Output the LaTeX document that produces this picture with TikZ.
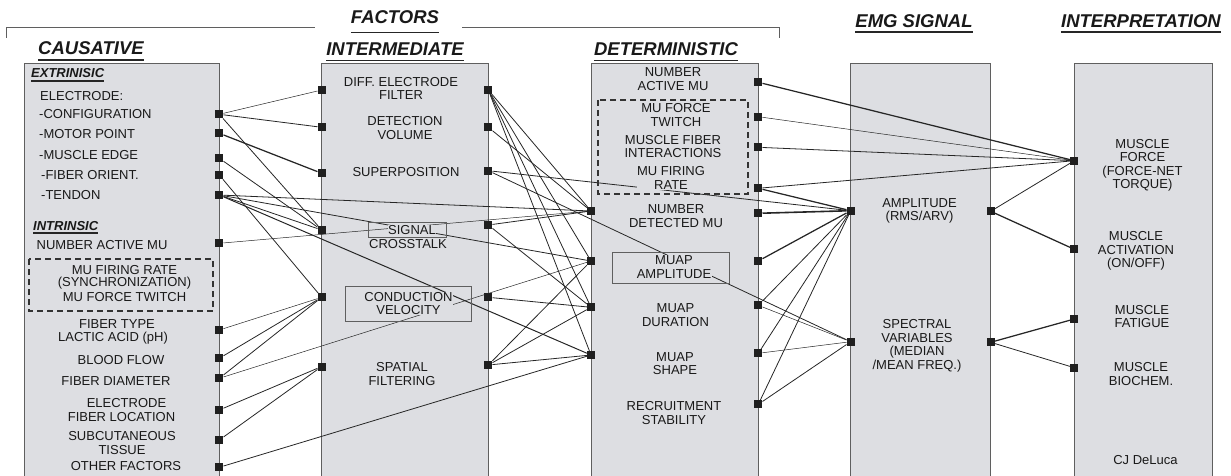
\documentclass[tikz,border=0pt]{standalone}
\usepackage{fontspec}
\setmainfont{Liberation Sans}
\definecolor{colbg}{RGB}{221,222,226}
\definecolor{edgec}{RGB}{95,95,95}
\definecolor{lnc}{RGB}{38,38,38}
\begin{document}
\begin{tikzpicture}[x=1pt,y=-1pt,
  colbox/.style={fill=colbg,draw=edgec,line width=1pt},
  port/.style={rectangle,fill=black!88,inner sep=0pt,minimum size=8pt},
  lbl/.style={fill=colbg,inner sep=0.5pt,align=center,text=black!90,font=\fontsize{13}{13.5}\selectfont},
  lblw/.style={lbl,anchor=west},
  hdr/.style={inner sep=0pt,anchor=base,text=black!90,font=\fontsize{18.5}{20}\selectfont\bfseries\itshape},
  subhdr/.style={inner sep=0pt,anchor=base west,text=black!90,font=\fontsize{13}{15}\selectfont\bfseries\itshape},
  uline/.style={draw=black!85,line width=1.4pt},
  cn/.style={draw=lnc,line width=0.8pt},
  cnthin/.style={draw=lnc,line width=0.5pt},
  cnthick/.style={draw=lnc,line width=1.25pt},
  frame/.style={draw=edgec,line width=1pt,inner sep=0pt},
  dbox/.style={draw=black!80,line width=2.2pt,dash pattern=on 6pt off 4pt},
]
\useasboundingbox (0,0) rectangle (1231,476);
\clip (0,0) rectangle (1231,476);

% ---------- headers ----------
\node[hdr] (fac) at (395,24) {FACTORS};
\draw[uline] ([yshift=-8.5pt]fac.base west) -- ([yshift=-8.5pt]fac.base east);
\draw[draw=edgec,line width=1pt] (6,38) -- (6,28) -- (315,28);
\draw[draw=edgec,line width=1pt] (462,28) -- (779,28) -- (779,38);
\node[hdr] (cau) at (91,55) {CAUSATIVE};
\draw[uline] ([yshift=-5pt]cau.base west) -- ([yshift=-5pt]cau.base east);
\node[hdr] (inter) at (395,56) {INTERMEDIATE};
\draw[uline] ([yshift=-4.5pt]inter.base west) -- ([yshift=-4.5pt]inter.base east);
\node[hdr] (det) at (666,56) {DETERMINISTIC};
\draw[uline] ([yshift=-4.5pt]det.base west) -- ([yshift=-4.5pt]det.base east);
\node[hdr] (emg) at (914,28) {EMG SIGNAL};
\draw[uline] ([yshift=-4pt]emg.base west) -- ([yshift=-4pt]emg.base east);
\node[hdr] (interp) at (1141,28) {INTERPRETATION};
\draw[uline] ([yshift=-4pt]interp.base west) -- ([yshift=-4pt]interp.base east);

% ---------- column boxes ----------
\path[colbox] (24.3,63.3) rectangle (219.3,490);
\path[colbox] (321.7,63.3) rectangle (488.3,490);
\path[colbox] (591,63.3) rectangle (758.3,490);
\path[colbox] (850.7,63.3) rectangle (990.7,490);
\path[colbox] (1074.3,63.3) rectangle (1212.7,490);

% ---------- ports ----------
\node[port] (aCfg) at (219.3,114.3) {};
\node[port] (aMot) at (219.3,133.3) {};
\node[port] (aEdge) at (219.3,158.3) {};
\node[port] (aFib) at (219.3,175) {};
\node[port] (aTen) at (219.3,195) {};
\node[port] (aNam) at (219.3,243.3) {};
\node[port] (aFtype) at (219.3,330) {};
\node[port] (aBlood) at (219.3,358.3) {};
\node[port] (aDiam) at (219.3,378.3) {};
\node[port] (aEloc) at (219.3,410) {};
\node[port] (aSub) at (219.3,440) {};
\node[port] (aOth) at (219.3,467.3) {};

\node[port] (bDiffL) at (321.7,90) {};
\node[port] (bDetL) at (321.7,127.3) {};
\node[port] (bSupL) at (321.7,173.3) {};
\node[port] (bXtL) at (321.7,230) {};
\node[port] (bCvL) at (321.7,297.3) {};
\node[port] (bSpL) at (321.7,366.5) {};
\node[port] (bDiffR) at (488.3,90) {};
\node[port] (bDetR) at (488.3,127.3) {};
\node[port] (bSupR) at (488.3,170.7) {};
\node[port] (bXtR) at (488.3,225) {};
\node[port] (bCvR) at (488.3,297.3) {};
\node[port] (bSpR) at (488.3,365) {};

\node[port] (cNdL) at (591,211) {};
\node[port] (cAmpL) at (591,261) {};
\node[port] (cDurL) at (591,307.3) {};
\node[port] (cShpL) at (591,355) {};
\node[port] (cNamR) at (758.3,82.3) {};
\node[port] (cTwR) at (758.3,116.7) {};
\node[port] (cFiR) at (758.3,147.3) {};
\node[port] (cFrR) at (758.3,188.3) {};
\node[port] (cNdR) at (758.3,213.3) {};
\node[port] (cAmpR) at (758.3,261) {};
\node[port] (cDurR) at (758.3,305.3) {};
\node[port] (cShpR) at (758.3,353.3) {};
\node[port] (cRecR) at (758.3,404.3) {};

\node[port] (dAmpL) at (850.7,210.7) {};
\node[port] (dSpecL) at (850.7,341.7) {};
\node[port] (dAmpR) at (990.7,211.3) {};
\node[port] (dSpecR) at (990.7,342.3) {};

\node[port] (eForce) at (1074.3,160.7) {};
\node[port] (eAct) at (1074.3,249.3) {};
\node[port] (eFat) at (1074.3,319) {};
\node[port] (eBio) at (1074.3,367.7) {};

% ---------- connectors: causative -> ----------
\draw[cnthin] (aCfg) -- (bDiffL);
\draw[cn] (aCfg) -- (bDetL);
\draw[cn] (aCfg) -- (bXtL);
\draw[cnthick] (aMot) -- (bSupL);
\draw[cn] (aEdge) -- (bXtL);
\draw[cn] (aFib) -- (bCvL);
\draw[cn] (aTen) -- (bXtL);
\draw[cn] (aTen) -- (cNdL);
\draw[cn] (aTen) -- (cAmpL);
\draw[line width=1pt,draw=lnc] (aTen) -- (cShpL);
\draw[cnthin] (aNam) -- (cNdL);
\draw[cnthin] (aFtype) -- (bCvL);
\draw[cn] (aBlood) -- (bCvL);
\draw[cn] (aDiam) -- (bCvL);
\draw[cnthin] (aDiam) -- (cAmpL);
\draw[cn] (aEloc) -- (bSpL);
\draw[cn] (aSub) -- (bSpL);
\draw[cn] (aOth) -- (cShpL);

% ---------- intermediate -> ----------
\draw[cn] (bDiffR) -- (cNdL);
\draw[cn] (bDiffR) -- (cAmpL);
\draw[cn] (bDiffR) -- (cDurL);
\draw[cn] (bDiffR) -- (cShpL);
\draw[cn] (bDetR) -- (cNdL);
\draw[cn] (bSupR) -- (dAmpL);
\draw[cn] (bSupR) -- (dSpecL);
\draw[cn] (bXtR) -- (cNdL);
\draw[cn] (bXtR) -- (cDurL);
\draw[cn] (bCvR) -- (cDurL);
\draw[cn] (bSpR) -- (cAmpL);
\draw[cn] (bSpR) -- (cDurL);
\draw[cn] (bSpR) -- (cShpL);

% ---------- deterministic -> ----------
\draw[cnthick] (cNamR) -- (eForce);
\draw[cnthin] (cTwR) -- (eForce);
\draw[cn] (cFiR) -- (eForce);
\draw[cn] (cFrR) -- (eForce);
\draw[cnthick] (cFrR) -- (dAmpL);
\draw[line width=1.6pt,draw=lnc] (cNdR) -- (dAmpL);
\draw[cnthick] (cAmpR) -- (dAmpL);
\draw[cn] (cDurR) -- (dAmpL);
\draw[cnthin] (cDurR) -- (dSpecL);
\draw[cn] (cShpR) -- (dAmpL);
\draw[cnthin] (cShpR) -- (dSpecL);
\draw[cn] (cRecR) -- (dAmpL);
\draw[cn] (cRecR) -- (dSpecL);

% ---------- EMG -> interpretation ----------
\draw[cn] (dAmpR) -- (eForce);
\draw[cnthick] (dAmpR) -- (eAct);
\draw[cnthick] (dSpecR) -- (eFat);
\draw[cn] (dSpecR) -- (eBio);

% ---------- labels: causative ----------
\node[subhdr] (extr) at (31,78) {EXTRINISIC};
\draw[draw=black!85,line width=1.2pt] ([yshift=-3pt]extr.base west) -- ([yshift=-3pt]extr.base east);
\node[lblw] (tElec) at (39.5,96) {ELECTRODE:};
\node[lblw] (tCfg) at (38.5,114.5) {-CONFIGURATION};
\node[lblw] (tMot) at (38.5,134) {-MOTOR POINT};
\node[lblw] (tEdge) at (38.5,155) {-MUSCLE EDGE};
\node[lblw] (tFib) at (40.5,175.5) {-FIBER ORIENT.};
\node[lblw] (tTen) at (40.5,195.5) {-TENDON};
\node[subhdr] (intr) at (33,230) {INTRINSIC};
\draw[draw=black!85,line width=1.2pt] ([yshift=-3pt]intr.base west) -- ([yshift=-3pt]intr.base east);
\node[lblw] (tNam) at (36,245) {NUMBER ACTIVE MU};
\node[lbl] (tFr) at (124.5,283.5) {MU FIRING RATE\\[-1.5pt](SYNCHRONIZATION)\\[1pt]MU FORCE TWITCH};
\node[lbl] (tFt) at (113,332) {\hspace*{8pt}FIBER TYPE\\LACTIC ACID (pH)};
\node[lbl] (tBlood) at (121,360.5) {BLOOD FLOW};
\node[lbl] (tDiam) at (116,381.5) {FIBER DIAMETER};
\node[lbl] (tEloc) at (121.5,410) {\hspace*{10pt}ELECTRODE\\FIBER LOCATION};
\node[lbl] (tSub) at (122,443) {SUBCUTANEOUS\\[1pt]TISSUE};
\node[lbl] (tOth) at (126,466.5) {OTHER FACTORS};

% ---------- labels: intermediate ----------
\node[lbl] (tDiff) at (401,88.5) {DIFF. ELECTRODE\\FILTER};
\node[lbl] (tDet) at (405,128) {DETECTION\\VOLUME};
\node[lbl] (tSup) at (406,172.5) {SUPERPOSITION};
\node[frame,minimum width=78pt,minimum height=15pt] (sigbox) at (407,229.5) {};
\node[lbl] (tSig) at (412,230.5) {SIGNAL};
\node[lbl] (tXt) at (408,244) {CROSSTALK};
\node[frame,minimum width=126pt,minimum height=35pt] (cvbox) at (408,303.5) {};
\node[lbl] (tCv) at (408.5,303.5) {CONDUCTION\\VELOCITY};
\node[lbl] (tSp) at (402,374) {SPATIAL\\FILTERING};

% ---------- labels: deterministic ----------
\node[lbl] (tNam3) at (673,79) {NUMBER\\ACTIVE MU};
\node[lbl] (tTw) at (676,115) {MU FORCE\\TWITCH};
\node[lbl] (tFi) at (673,146.5) {MUSCLE FIBER\\INTERACTIONS};
\node[lbl] (tFr3) at (671,178) {MU FIRING\\RATE};
\node[lbl] (tNd) at (676,216) {NUMBER\\DETECTED MU};
\node[frame,minimum width=117pt,minimum height=31pt] (ampbox) at (670.5,267.5) {};
\node[lbl] (tAmp) at (674,267) {MUAP\\AMPLITUDE};
\node[lbl] (tDur) at (675.5,315) {MUAP\\DURATION};
\node[lbl] (tShp) at (675,363.5) {MUAP\\SHAPE};
\node[lbl] (tRec) at (674,413) {RECRUITMENT\\STABILITY};

% ---------- labels: EMG signal ----------
\node[lbl] (tAmp4) at (919.5,211) {AMPLITUDE\\(RMS/ARV)};
\node[lbl] (tSpec) at (917,346) {SPECTRAL\\VARIABLES\\(MEDIAN\\/MEAN FREQ.)};

% ---------- labels: interpretation ----------
\node[lbl] (tForce) at (1142.5,165.5) {MUSCLE\\FORCE\\(FORCE-NET\\TORQUE)};
\node[lbl] (tAct) at (1136,251) {MUSCLE\\ACTIVATION\\(ON/OFF)};
\node[lbl] (tFat) at (1142,316.5) {MUSCLE\\FATIGUE};
\node[lbl] (tBio) at (1141,374) {MUSCLE\\BIOCHEM.};
\node[lbl] (tCj) at (1145.5,460) {CJ DeLuca};

% ---------- dashed groups ----------
\draw[dbox] (29,259) rectangle (213,311);
\draw[dbox] (598,100) rectangle (748,194);
\end{tikzpicture}
\end{document}
